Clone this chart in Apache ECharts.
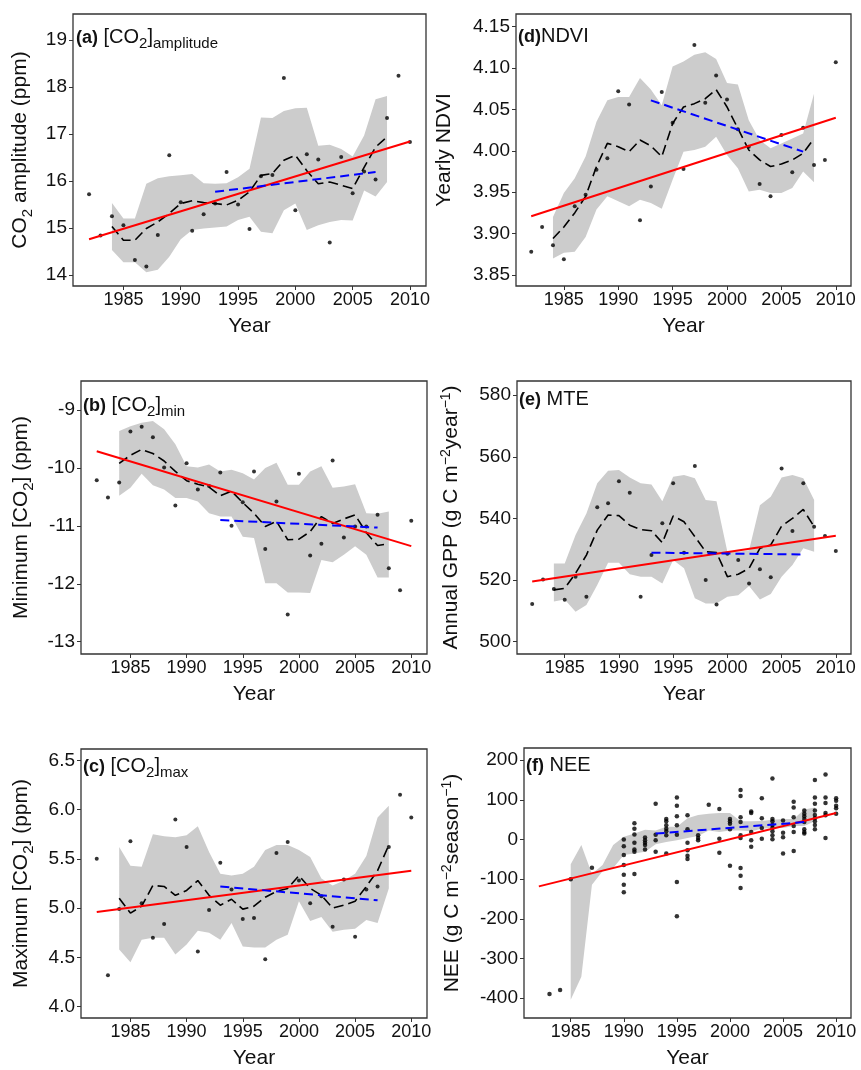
<!DOCTYPE html>
<html><head><meta charset="utf-8">
<script src="https://cdn.jsdelivr.net/npm/echarts@6/dist/echarts.min.js"></script>
<style>html,body{margin:0;padding:0;background:#fff}#c{width:861px;height:1070px}</style>
</head><body><div id="c"></div>
<script>
// ---------- shared x values ----------
const years = [1982,1983,1984,1985,1986,1987,1988,1989,1990,1991,1992,1993,1994,1995,1996,1997,1998,1999,2000,2001,2002,2003,2004,2005,2006,2007,2008,2009,2010];
const bandYears = [1984,1985,1986,1987,1988,1989,1990,1991,1992,1993,1994,1995,1996,1997,1998,1999,2000,2001,2002,2003,2004,2005,2006,2007,2008];
const trendYears = [1982, 2010];
const recentYears = [1993, 2007];
const xTicks = [1985, 1990, 1995, 2000, 2005, 2010];

// ---------- (a) CO2 amplitude ----------
const ampObs = [15.72,14.84,15.25,15.06,14.32,14.18,14.85,16.55,15.55,14.94,15.29,15.52,16.19,15.50,14.98,16.10,16.13,18.19,15.38,16.57,16.46,14.69,16.51,15.74,16.20,16.03,17.34,18.24,16.83];
const ampSmooth = [15.03,14.74,14.74,14.99,15.13,15.31,15.52,15.58,15.54,15.52,15.49,15.59,15.77,16.12,16.16,16.44,16.55,16.22,15.94,15.98,15.91,15.84,16.29,16.72,16.94];
const ampLower = [14.53,14.27,14.27,14.06,14.11,14.39,14.76,14.96,14.99,15.01,15.03,15.17,15.24,14.92,14.89,15.38,15.52,14.96,15.06,15.13,15.17,15.16,15.80,15.67,15.98];
const ampUpper = [15.53,15.20,15.20,15.94,16.06,16.10,16.12,16.15,15.95,15.94,15.95,16.08,16.26,17.35,17.34,17.49,17.55,17.56,16.75,16.77,16.68,16.52,16.97,17.74,17.81];
const ampTrend = [14.76, 16.84];
const ampRecent = [15.77, 16.19];
const ampTicks = [14, 15, 16, 17, 18, 19];

// ---------- (d) NDVI ----------
const ndviObs = [3.878,3.908,3.886,3.869,3.933,3.947,3.977,3.991,4.072,4.056,3.916,3.957,4.071,4.034,3.978,4.128,4.058,4.091,4.062,4.026,4.005,3.960,3.945,4.019,3.974,4.028,3.983,3.989,4.107];
const ndviSmooth = [3.894,3.908,3.925,3.945,3.981,4.009,4.005,3.999,4.013,4.006,3.993,4.033,4.053,4.057,4.063,4.074,4.053,4.027,4.001,3.989,3.981,3.984,3.989,3.997,4.015];
const ndviLower = [3.870,3.877,3.878,3.896,3.929,3.945,3.939,3.933,3.941,3.937,3.930,3.965,3.999,4.001,4.005,4.017,3.995,3.979,3.951,3.953,3.949,3.949,3.955,3.975,3.962];
const ndviUpper = [3.920,3.949,3.967,3.993,4.035,4.061,4.065,4.065,4.088,4.074,4.055,4.102,4.108,4.116,4.119,4.111,4.082,4.080,4.037,4.013,4.003,4.009,4.015,4.021,4.069];
const ndviTrend = [3.921, 4.040];
const ndviRecent = [4.061, 3.999];
const ndviTicks = [3.85, 3.90, 3.95, 4.00, 4.05, 4.10, 4.15];

// ---------- (b) CO2 min ----------
const minObs = [-10.21,-10.51,-10.25,-9.37,-9.29,-9.47,-9.99,-10.65,-9.92,-10.37,-10.31,-10.08,-11.00,-10.59,-10.06,-11.40,-10.58,-12.53,-10.10,-11.51,-11.31,-9.87,-11.20,-11.01,-11.01,-10.81,-11.73,-12.11,-10.91];
const minSmooth = [-9.92,-9.78,-9.68,-9.75,-9.88,-10.06,-10.22,-10.28,-10.33,-10.48,-10.40,-10.60,-10.78,-11.01,-10.92,-11.24,-11.23,-11.10,-10.84,-10.96,-10.88,-10.81,-11.12,-11.34,-11.31];
const minLower = [-10.48,-10.34,-10.10,-10.30,-10.37,-10.52,-10.52,-10.58,-10.78,-10.84,-10.84,-11.19,-11.21,-11.99,-11.99,-12.15,-12.15,-12.16,-11.59,-11.63,-11.50,-11.35,-11.50,-11.89,-11.89];
const minUpper = [-9.36,-9.28,-9.22,-9.19,-9.33,-9.59,-9.97,-9.99,-9.94,-10.06,-10.03,-10.09,-10.20,-10.00,-9.91,-10.29,-10.29,-10.06,-9.97,-10.34,-10.32,-10.28,-10.78,-10.79,-10.75];
const minTrend = [-9.71, -11.35];
const minRecent = [-10.90, -11.03];
const minTicks = [-13, -12, -11, -10, -9];

// ---------- (e) MTE GPP ----------
const gppObs = [512.2,520.2,517.1,513.6,521.1,514.6,543.6,544.9,552.1,548.3,514.6,528.1,538.4,551.4,528.9,557.0,520.0,512.1,528.5,526.5,518.9,523.5,520.9,556.2,535.9,551.4,537.3,534.3,529.4];
const gppSmooth = [516.8,517.3,522.2,528.1,536.2,541.1,540.9,537.8,536.4,536.0,532.1,540.8,538.9,534.1,529.2,528.9,521.1,521.9,523.8,530.3,531.4,537.5,540.0,542.9,537.3];
const gppLower = [513.0,513.7,509.7,511.9,518.4,525.6,525.6,521.9,521.1,521.1,518.9,526.5,523.8,514.1,512.4,512.4,514.6,515.1,518.1,513.7,515.5,521.1,524.9,530.3,529.2];
const gppUpper = [525.4,525.4,534.6,541.6,551.4,555.5,555.7,553.3,551.4,551.0,545.6,553.5,554.1,553.0,546.0,545.6,529.2,529.2,529.7,544.3,547.0,553.3,554.1,553.0,546.0];
const gppTrend = [519.5, 534.4];
const gppRecent = [528.9, 528.3];
const gppTicks = [500, 520, 540, 560, 580];

// ---------- (c) CO2 max ----------
const maxObs = [5.50,4.32,4.99,5.68,5.05,4.70,4.84,5.90,5.62,4.56,4.98,5.46,5.19,4.89,4.90,4.48,5.56,5.67,5.28,5.05,5.12,4.81,5.29,4.71,5.19,5.22,5.62,6.15,5.92];
const maxSmooth = [5.10,4.95,5.02,5.23,5.22,5.13,5.18,5.28,5.13,5.03,5.09,4.99,5.02,5.11,5.17,5.20,5.33,5.20,5.13,5.00,5.03,5.07,5.22,5.38,5.64];
const maxLower = [4.58,4.45,4.68,4.70,4.70,4.53,4.63,4.77,4.75,4.68,4.85,4.61,4.60,4.60,4.68,4.73,5.07,4.87,4.91,4.76,4.78,4.79,4.88,4.85,5.20];
const maxUpper = [5.62,5.43,5.42,5.75,5.73,5.72,5.74,5.83,5.57,5.35,5.33,5.35,5.42,5.59,5.64,5.64,5.59,5.52,5.30,5.23,5.28,5.35,5.53,5.92,6.04];
const maxTrend = [4.96, 5.38];
const maxRecent = [5.22, 5.08];
const maxTicks = [4.0, 4.5, 5.0, 5.5, 6.0, 6.5];

// ---------- (f) NEE (site-years) ----------
const neeObs = [
  [1983,-389],[1984,-379],[1985,-100],[1987,-71],
  [1990,0],[1990,-17],[1990,-39],[1990,-64],[1990,-89],[1990,-114],[1990,-133],
  [1991,41],[1991,27],[1991,13],[1991,-8],[1991,-25],[1991,-31],[1991,-87],
  [1992,5],[1992,-2],[1992,-8],[1992,-14],[1992,-25],
  [1993,90],[1993,12],[1993,-2],[1993,-31],
  [1994,52],[1994,46],[1994,36],[1994,27],[1994,21],[1994,11],[1994,-35],
  [1995,106],[1995,85],[1995,59],[1995,36],[1995,12],[1995,-107],[1995,-193],
  [1996,61],[1996,26],[1996,-8],[1996,-27],[1996,-41],[1996,-49],
  [1997,11],[1997,4],[1997,-2],
  [1998,88],
  [1999,77],[1999,2],[1999,-33],
  [2000,52],[2000,46],[2000,40],[2000,26],[2000,-66],
  [2001,125],[2001,110],[2001,56],[2001,44],[2001,11],[2001,4],[2001,-72],[2001,-91],[2001,-122],
  [2002,71],[2002,67],[2002,19],[2002,-2],[2002,-18],
  [2003,104],[2003,54],[2003,29],[2003,2],
  [2004,154],[2004,52],[2004,46],[2004,37],[2004,29],[2004,21],[2004,11],[2004,1],
  [2005,48],[2005,17],[2005,6],[2005,-35],
  [2006,95],[2006,81],[2006,56],[2006,34],[2006,19],[2006,-29],
  [2007,73],[2007,65],[2007,59],[2007,52],[2007,44],[2007,26],[2007,19],[2007,15],
  [2008,150],[2008,106],[2008,90],[2008,73],[2008,62],[2008,54],[2008,46],[2008,37],[2008,26],
  [2009,164],[2009,106],[2009,92],[2009,67],[2009,61],[2009,4],
  [2010,104],[2010,98],[2010,85],[2010,79],[2010,65]
];
const neeBandYears = [1985,1986,1987,1988,1989,1990,1991,1992,1993,1994,1995,1996,1997,1998,1999,2000,2001,2002,2003,2004,2005,2006,2007,2008];
const neeLower = [-404,-346,-114,-80,-72,-39,-35,-31,-12,-6,-2,4,9,23,19,23,23,21,27,29,29,34,34,46];
const neeUpper = [-62,-14,-87,-64,-14,7,15,25,23,32,32,54,62,65,67,67,46,46,47,50,52,52,76,81];
const neeTrend = [-118, 67];
const neeRecent = [15, 44];
const neeTicks = [-400, -300, -200, -100, 0, 100, 200];

// ---------- styling / layout ----------
const FONT = '"Liberation Sans", Arial, Helvetica, sans-serif';
const TXT = '#111';
const richName = {
  n: {fontSize: 21, fontWeight: 'normal', fontFamily: FONT, color: TXT, verticalAlign: 'bottom', padding: [0,0,4,0]},
  s: {fontSize: 15, fontWeight: 'normal', fontFamily: FONT, color: TXT, verticalAlign: 'bottom', padding: [0,0,0,0]},
  p: {fontSize: 14, fontWeight: 'normal', fontFamily: FONT, color: TXT, verticalAlign: 'bottom', padding: [0,0,13,0]}
};
const richTitle = {
  b: {fontSize: 18, fontWeight: 'bold', fontFamily: FONT, color: TXT, verticalAlign: 'bottom', padding: [0,0,4,0]},
  n: {fontSize: 20, fontWeight: 'normal', fontFamily: FONT, color: TXT, verticalAlign: 'bottom', padding: [0,0,4,0]},
  s: {fontSize: 15, fontWeight: 'normal', fontFamily: FONT, color: TXT, verticalAlign: 'bottom', padding: [0,0,0,0]}
};

const zip = (xs, ys) => xs.map((x, i) => [x, ys[i]]);

const panels = [
  {box: {left: 73, top: 14, width: 353, height: 272}, yMin: 13.766, yMax: 19.553, ticks: ampTicks, dec: 0,
   obs: zip(years, ampObs), smooth: ampSmooth, lower: ampLower, upper: ampUpper, bandX: bandYears,
   trend: ampTrend, recent: ampRecent, nameGap: 38,
   yName: '{n|CO}{s|2}{n| amplitude (ppm)}',
   title: '{b|(a)}{n| [CO}{s|2}{n|]}{s|amplitude}', tPos: [76, 27]},
  {box: {left: 516, top: 14, width: 335, height: 272}, yMin: 3.8367, yMax: 4.1653, ticks: ndviTicks, dec: 2,
   obs: zip(years, ndviObs), smooth: ndviSmooth, lower: ndviLower, upper: ndviUpper, bandX: bandYears,
   trend: ndviTrend, recent: ndviRecent, nameGap: 57,
   yName: '{n|Yearly NDVI}',
   title: '{b|(d)}{n|NDVI}', tPos: [518, 26]},
  {box: {left: 81, top: 381, width: 346, height: 273}, yMin: -13.213, yMax: -8.498, ticks: minTicks, dec: 0,
   obs: zip(years, minObs), smooth: minSmooth, lower: minLower, upper: minUpper, bandX: bandYears,
   trend: minTrend, recent: minRecent, nameGap: 45,
   yName: '{n|Minimum [CO}{s|2}{n|] (ppm)}',
   title: '{b|(b)}{n| [CO}{s|2}{n|]}{s|min}', tPos: [83, 395]},
  {box: {left: 517, top: 381, width: 334, height: 273}, yMin: 496.0, yMax: 584.6, ticks: gppTicks, dec: 0,
   obs: zip(years, gppObs), smooth: gppSmooth, lower: gppLower, upper: gppUpper, bandX: bandYears,
   trend: gppTrend, recent: gppRecent, nameGap: 51,
   yName: '{n|Annual GPP (g C m}{p|\u22122}{n|year}{p|\u22121}{n|)}',
   title: '{b|(e)}{n| MTE}', tPos: [519, 389]},
  {box: {left: 81, top: 749, width: 346, height: 272}, yMin: 3.885, yMax: 6.615, ticks: maxTicks, dec: 1,
   obs: zip(years, maxObs), smooth: maxSmooth, lower: maxLower, upper: maxUpper, bandX: bandYears,
   trend: maxTrend, recent: maxRecent, nameGap: 45,
   yName: '{n|Maximum [CO}{s|2}{n|] (ppm)}',
   title: '{b|(c)}{n| [CO}{s|2}{n|]}{s|max}', tPos: [83, 756]},
  {box: {left: 524, top: 748, width: 327, height: 274}, yMin: -449.8, yMax: 230.8, ticks: neeTicks, dec: 0,
   obs: neeObs, smooth: null, lower: neeLower, upper: neeUpper, bandX: neeBandYears,
   trend: neeTrend, recent: neeRecent, nameGap: 57, dot: 4.5,
   yName: '{n|NEE (g C m}{p|\u22122}{n|season}{p|\u22121}{n|)}',
   title: '{b|(f)}{n| NEE}', tPos: [526, 755]}
];

const option = {
  animation: false,
  backgroundColor: '#fff',
  grid: [], xAxis: [], yAxis: [], series: [], title: []
};

panels.forEach((p, i) => {
  option.grid.push(Object.assign({show: true, borderColor: '#333', borderWidth: 1.3, backgroundColor: 'transparent'}, p.box));
  option.xAxis.push({
    gridIndex: i, type: 'value', min: 1980.6, max: 2011.4, position: 'bottom',
    axisLine: {show: false, onZero: false},
    axisTick: {show: true, customValues: xTicks, length: 4, lineStyle: {color: '#333', width: 1}},
    axisLabel: {customValues: xTicks, fontSize: 18, fontFamily: FONT, color: TXT, margin: 5,
      formatter: v => String(Math.round(v))},
    splitLine: {show: false},
    name: 'Year', nameLocation: 'middle', nameGap: 30,
    nameTextStyle: {fontSize: 21, fontFamily: FONT, color: TXT}
  });
  option.yAxis.push({
    gridIndex: i, type: 'value', min: p.yMin, max: p.yMax, position: 'left',
    axisLine: {show: false, onZero: false},
    axisTick: {show: true, customValues: p.ticks, length: 4, lineStyle: {color: '#333', width: 1}},
    axisLabel: {customValues: p.ticks, fontSize: 19, fontFamily: FONT, color: TXT, margin: 6,
      formatter: v => Number(v).toFixed(p.dec)},
    splitLine: {show: false},
    name: p.yName, nameLocation: 'middle', nameRotate: 90, nameGap: p.nameGap,
    nameTextStyle: {fontSize: 21, fontFamily: FONT, color: TXT, rich: richName}
  });
  // confidence band drawn as one polygon through the axis scales
  option.series.push({
    type: 'custom', xAxisIndex: i, yAxisIndex: i, silent: true,
    data: p.bandX.map((x, k) => [x, p.lower[k], p.upper[k]]),
    encode: {x: 0, y: [1, 2]},
    renderItem: (params, api) => {
      if (params.dataIndex !== 0) return null;
      const pts = [];
      p.bandX.forEach((x, k) => pts.push(api.coord([x, p.upper[k]])));
      for (let k = p.bandX.length - 1; k >= 0; k--) pts.push(api.coord([p.bandX[k], p.lower[k]]));
      return {type: 'polygon', shape: {points: pts}, style: {fill: '#cccccc', stroke: null}};
    }
  });
  option.series.push({
    type: 'scatter', xAxisIndex: i, yAxisIndex: i, data: p.obs,
    symbolSize: p.dot || 4, itemStyle: {color: '#000'}, silent: true
  });
  if (p.smooth) {
    option.series.push({
      type: 'line', xAxisIndex: i, yAxisIndex: i, data: zip(p.bandX, p.smooth),
      symbol: 'none', silent: true,
      lineStyle: {color: '#000', width: 1.6, type: [10, 5]}
    });
  }
  option.series.push({
    type: 'line', xAxisIndex: i, yAxisIndex: i, data: zip(trendYears, p.trend),
    symbol: 'none', silent: true, lineStyle: {color: '#ff0000', width: 2}
  });
  option.series.push({
    type: 'line', xAxisIndex: i, yAxisIndex: i, data: zip(recentYears, p.recent),
    symbol: 'none', silent: true, lineStyle: {color: '#0000ff', width: 2, type: [9, 5]}
  });
  option.title.push({
    text: p.title, left: p.tPos[0], top: p.tPos[1], padding: 0,
    textStyle: {rich: richTitle, fontSize: 20, fontWeight: 'normal', fontFamily: FONT, color: TXT}
  });
});

const chart = echarts.init(document.getElementById('c'), null, {renderer: 'canvas'});
chart.setOption(option);
</script>
</body></html>
